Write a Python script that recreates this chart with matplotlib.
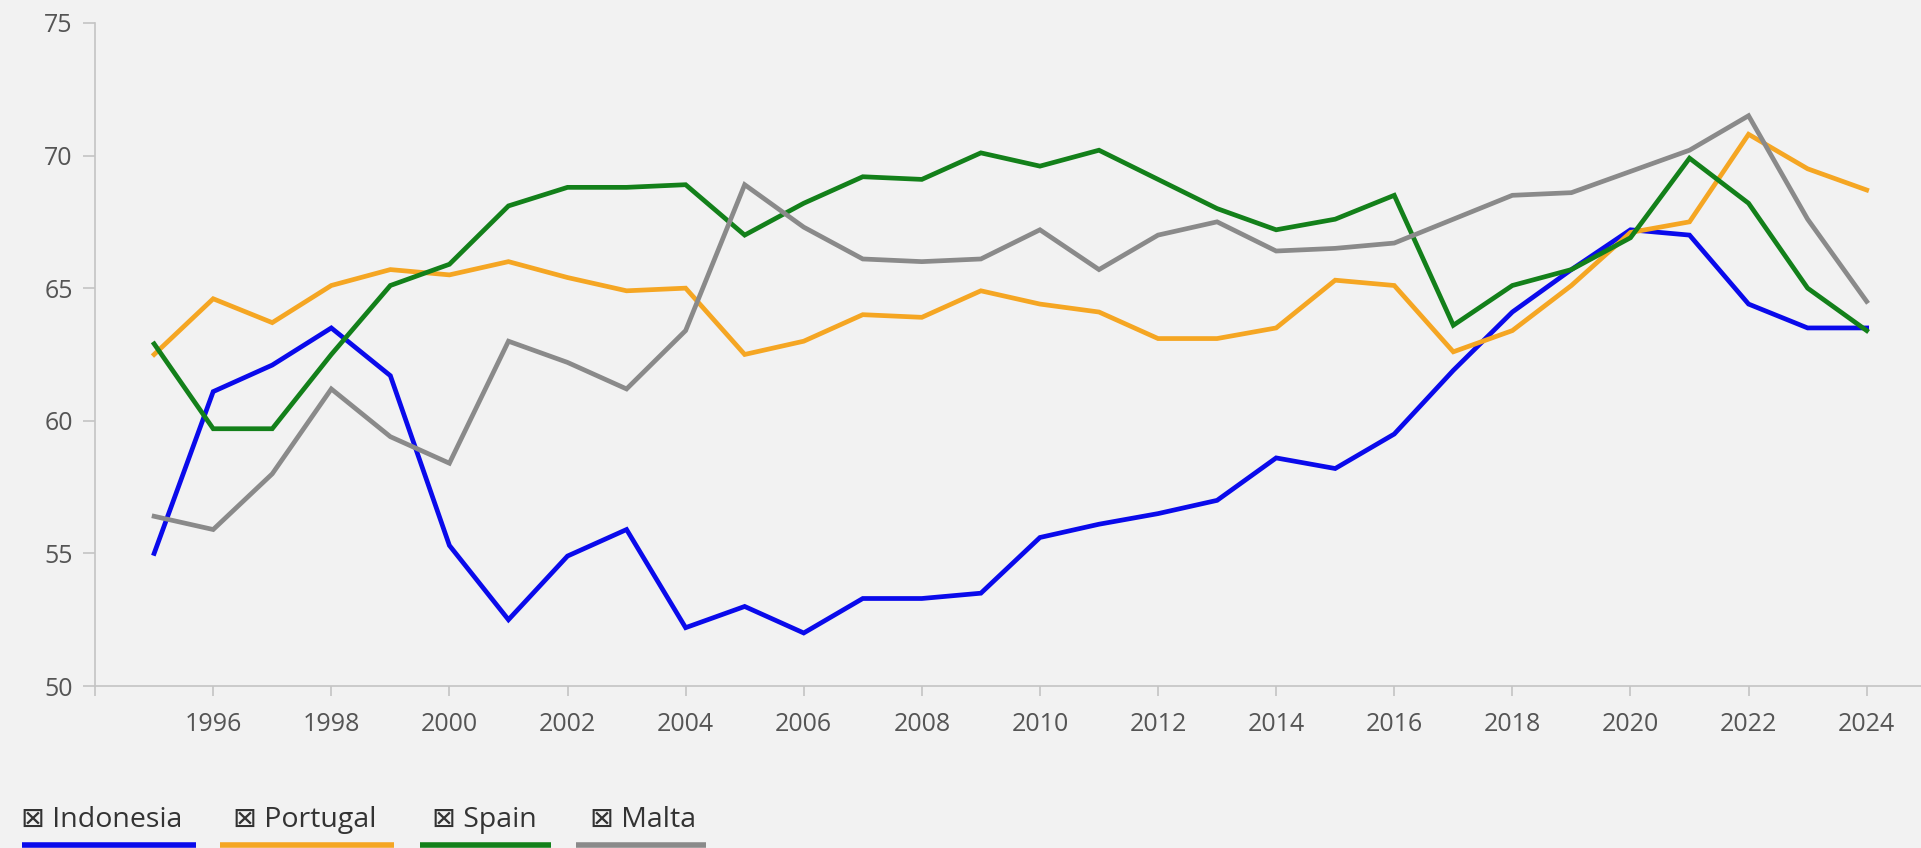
import matplotlib
matplotlib.use("Agg")
import matplotlib.pyplot as plt
from matplotlib.lines import Line2D

years = list(range(1995, 2025))

indonesia = [55.0, 61.1, 62.1, 63.5, 61.7, 55.3, 52.5, 54.9, 55.9, 52.2,
             53.0, 52.0, 53.3, 53.3, 53.5, 55.6, 56.1, 56.5, 57.0, 58.6,
             58.2, 59.5, 61.9, 64.1, 65.7, 67.2, 67.0, 64.4, 63.5, 63.5]
portugal = [62.5, 64.6, 63.7, 65.1, 65.7, 65.5, 66.0, 65.4, 64.9, 65.0,
            62.5, 63.0, 64.0, 63.9, 64.9, 64.4, 64.1, 63.1, 63.1, 63.5,
            65.3, 65.1, 62.6, 63.4, 65.1, 67.1, 67.5, 70.8, 69.5, 68.7]
spain = [62.9, 59.7, 59.7, 62.5, 65.1, 65.9, 68.1, 68.8, 68.8, 68.9,
         67.0, 68.2, 69.2, 69.1, 70.1, 69.6, 70.2, 69.1, 68.0, 67.2,
         67.6, 68.5, 63.6, 65.1, 65.7, 66.9, 69.9, 68.2, 65.0, 63.4]
malta = [56.4, 55.9, 58.0, 61.2, 59.4, 58.4, 63.0, 62.2, 61.2, 63.4,
         68.9, 67.3, 66.1, 66.0, 66.1, 67.2, 65.7, 67.0, 67.5, 66.4,
         66.5, 66.7, 67.6, 68.5, 68.6, 69.4, 70.2, 71.5, 67.6, 64.5]

countries = ["Indonesia", "Portugal", "Spain", "Malta"]
colors = ["#0a0aeb", "#f5a623", "#13801a", "#8a8a8a"]

bg = "#f2f2f2"
fig = plt.figure(figsize=(19.21, 8.48), dpi=100, facecolor=bg)
ax = fig.add_axes([0.0495, 0.191, 0.9505, 0.782], facecolor=bg)

for values, color in zip([indonesia, portugal, spain, malta], colors):
    ax.plot(years, values, color=color, linewidth=3.4, solid_joinstyle="miter")

ax.set_xlim(1994, 2024.92)
ax.set_ylim(50, 75)

xticks = list(range(1994, 2025, 2))
ax.set_xticks(xticks)
ax.set_xticklabels([""] + [str(y) for y in xticks[1:]])
ax.set_yticks([50, 55, 60, 65, 70, 75])

for side in ["top", "right"]:
    ax.spines[side].set_visible(False)
for side in ["left", "bottom"]:
    ax.spines[side].set_color("#c4c4c4")
    ax.spines[side].set_linewidth(1.2)

ax.tick_params(axis="both", colors="#c4c4c4", labelcolor="#555555",
               labelsize=18, width=1.2)
ax.tick_params(axis="y", length=9, pad=7)
ax.tick_params(axis="x", length=7, pad=12)
for lbl in ax.get_xticklabels() + ax.get_yticklabels():
    lbl.set_family("Open Sans")

# legend row underneath the chart
legend_x = [0.011, 0.1215, 0.2248, 0.307]
bar_spans = [(0.0115, 0.102), (0.1145, 0.205), (0.2185, 0.287), (0.2998, 0.3675)]
for name, color, tx, (x0, x1) in zip(countries, colors, legend_x, bar_spans):
    fig.text(tx, 0.016, "\u22a0 " + name, fontsize=20.5, color="#333333",
             family=["Open Sans", "DejaVu Sans"], va="bottom", ha="left")
    fig.add_artist(Line2D([x0, x1], [0.0035, 0.0035], color=color,
                          linewidth=4, transform=fig.transFigure,
                          solid_capstyle="butt"))

fig.savefig("out.png", dpi=100, facecolor=bg)
